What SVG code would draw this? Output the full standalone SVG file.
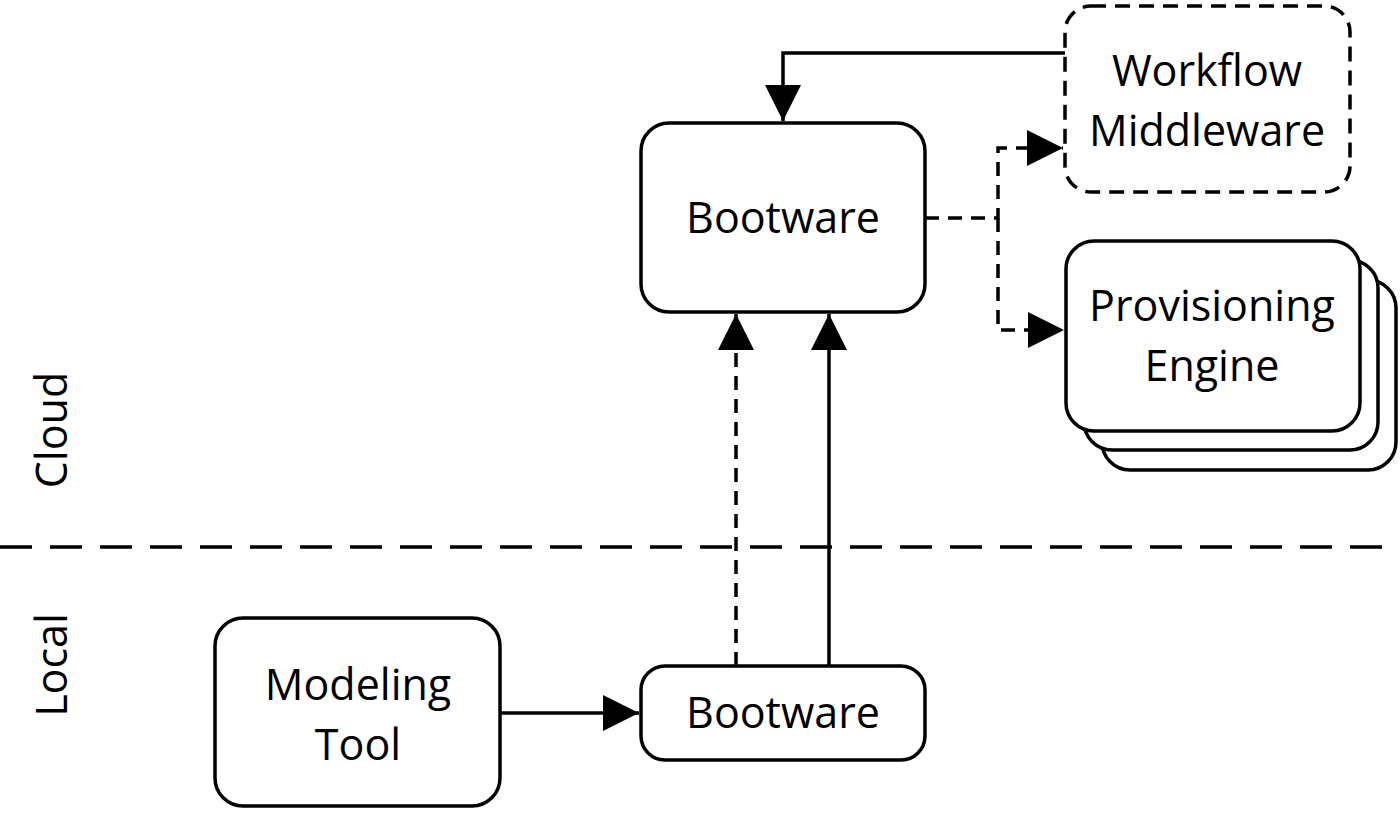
<svg xmlns="http://www.w3.org/2000/svg" width="1400" height="813" viewBox="0 0 1400 813">
  <style>
    .box { fill: #fff; stroke: #000; stroke-width: 3.5; }
    .dashbox { fill: #fff; stroke: #000; stroke-width: 3.5; stroke-dasharray: 15 9; }
    .lbl { font-family: "Open Sans", "Liberation Sans", sans-serif; font-size: 43px; fill: #000; text-anchor: middle; }
    .line { fill: none; stroke: #000; stroke-width: 3.5; }
    .dashed { stroke-dasharray: 14 9; }
    .sep { fill: none; stroke: #000; stroke-width: 3.5; stroke-dasharray: 32 18; }
  </style>
  <defs>
    <!-- filled triangular head, 36 long x 36 wide, tip at the path end -->
    <marker id="arrow" viewBox="0 0 36 36" refX="36" refY="18" markerWidth="36" markerHeight="36" markerUnits="userSpaceOnUse" orient="auto">
      <path d="M0,0 L36,18 L0,36 Z" fill="#000"/>
    </marker>
  </defs>
  <rect width="1400" height="813" fill="#fff"/>

  <!-- zone divider and zone labels -->
  <g id="zones">
    <line class="sep" x1="0" y1="547" x2="1400" y2="547"/>
    <text class="lbl" transform="translate(67,430) rotate(-90)">Cloud</text>
    <text class="lbl" transform="translate(67,665) rotate(-90)">Local</text>
  </g>

  <!-- connectors -->
  <g id="connectors">
    <path class="line" d="M1065,53 H783 V121" marker-end="url(#arrow)"/>
    <path class="line dashed" d="M925,218 H998 V148 H1063" marker-end="url(#arrow)"/>
    <path class="line dashed" d="M998,218 V330 H1064" marker-end="url(#arrow)"/>
    <path class="line dashed" d="M736,666 V314" marker-end="url(#arrow)"/>
    <path class="line" d="M829,666 V314" marker-end="url(#arrow)"/>
    <path class="line" d="M500,713 H639" marker-end="url(#arrow)"/>
  </g>

  <g id="workflow-middleware">
    <rect class="dashbox" x="1065" y="6" width="285" height="186" rx="26"/>
    <text class="lbl" x="1207" y="86">Workflow</text>
    <text class="lbl" x="1207" y="146">Middleware</text>
  </g>

  <g id="bootware-cloud">
    <rect class="box" x="641" y="123" width="284" height="189" rx="28"/>
    <text class="lbl" x="783" y="233">Bootware</text>
  </g>

  <g id="provisioning-engine">
    <rect class="box" x="1102" y="280" width="294" height="190" rx="28"/>
    <rect class="box" x="1084" y="260" width="294" height="190" rx="28"/>
    <rect class="box" x="1066" y="241" width="294" height="190" rx="28"/>
    <text class="lbl" x="1212" y="321">Provisioning</text>
    <text class="lbl" x="1212" y="381">Engine</text>
  </g>

  <g id="modeling-tool">
    <rect class="box" x="215" y="618" width="285" height="188" rx="28"/>
    <text class="lbl" x="358" y="700">Modeling</text>
    <text class="lbl" x="358" y="760">Tool</text>
  </g>

  <g id="bootware-local">
    <rect class="box" x="641" y="666" width="284" height="94" rx="24"/>
    <text class="lbl" x="783" y="728">Bootware</text>
  </g>
</svg>
